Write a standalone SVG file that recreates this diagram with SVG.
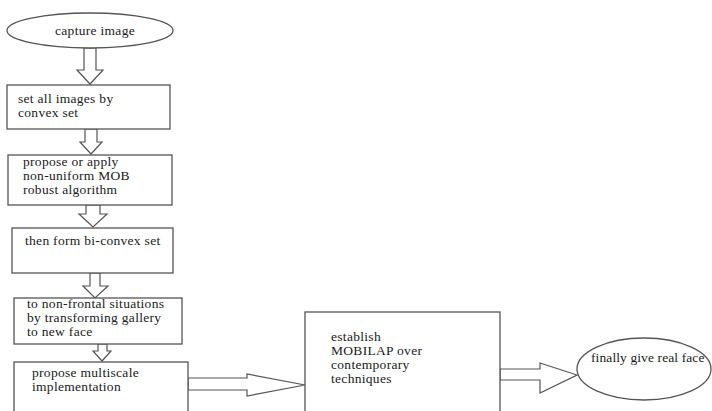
<svg xmlns="http://www.w3.org/2000/svg" width="712" height="411" viewBox="0 0 712 411">
<style>
.shape{fill:#fff;stroke:#555;stroke-width:1.3}
.arr{fill:#fff;stroke:#555;stroke-width:1.2;stroke-linejoin:miter}
.t{font-family:'Liberation Serif','DejaVu Serif',serif;font-size:13.5px;letter-spacing:0.3px;fill:#1a1a1a}
</style>
<rect width="712" height="411" fill="#fff"/>
<g id="connectors">
<polygon class="arr" points="84,48 96,48 96,70 103,70 90,84 77,70 84,70"/>
<polygon class="arr" points="85,129 97,129 97,142 102,142 91,154 80,142 85,142"/>
<polygon class="arr" points="86,205 100,205 100,214 107,214 93,227 79,214 86,214"/>
<polygon class="arr" points="90,273 100,273 100,286 108,286 95,298 83,286 90,286"/>
<polygon class="arr" points="98,344 107,344 107,351 111,351 102,361 93,351 98,351"/>
<polygon class="arr" points="188,378 247,378 247,374 305,385 247,396 247,390 188,390"/>
<polygon class="arr" points="500,369 540,369 540,363 577,375 540,393 540,380 500,380"/>
</g>
<g id="n1"><ellipse class="shape" cx="90" cy="30.5" rx="83" ry="17.5"/><text class="t" x="55" y="35">capture image</text></g>
<g id="n2"><rect class="shape" x="7" y="85" width="163" height="44"/><text class="t" x="18" y="103">set all images by</text><text class="t" x="18" y="117">convex set</text></g>
<g id="n3"><rect class="shape" x="8" y="155" width="164" height="50"/><text class="t" x="23" y="166">propose or apply</text><text class="t" x="23" y="180">non-uniform MOB</text><text class="t" x="23" y="194">robust algorithm</text></g>
<g id="n4"><rect class="shape" x="12" y="228" width="161" height="45"/><text class="t" x="25" y="245">then form bi-convex set</text></g>
<g id="n5"><rect class="shape" x="14" y="298" width="168" height="46"/><text class="t" x="27" y="308">to non-frontal situations</text><text class="t" x="27" y="322">by transforming gallery</text><text class="t" x="27" y="336">to new face</text></g>
<g id="n6"><rect class="shape" x="14" y="362" width="174" height="60"/><text class="t" x="32" y="377">propose multiscale</text><text class="t" x="32" y="391">implementation</text></g>
<g id="n7"><rect class="shape" x="305" y="312" width="195" height="110"/><text class="t" x="331" y="341">establish</text><text class="t" x="331" y="355">MOBILAP over</text><text class="t" x="331" y="369">contemporary</text><text class="t" x="331" y="383">techniques</text></g>
<g id="n8"><ellipse class="shape" cx="644" cy="369" rx="67" ry="31"/><text class="t" x="591" y="362" style="letter-spacing:0.1px">finally give real face</text></g>
</svg>
